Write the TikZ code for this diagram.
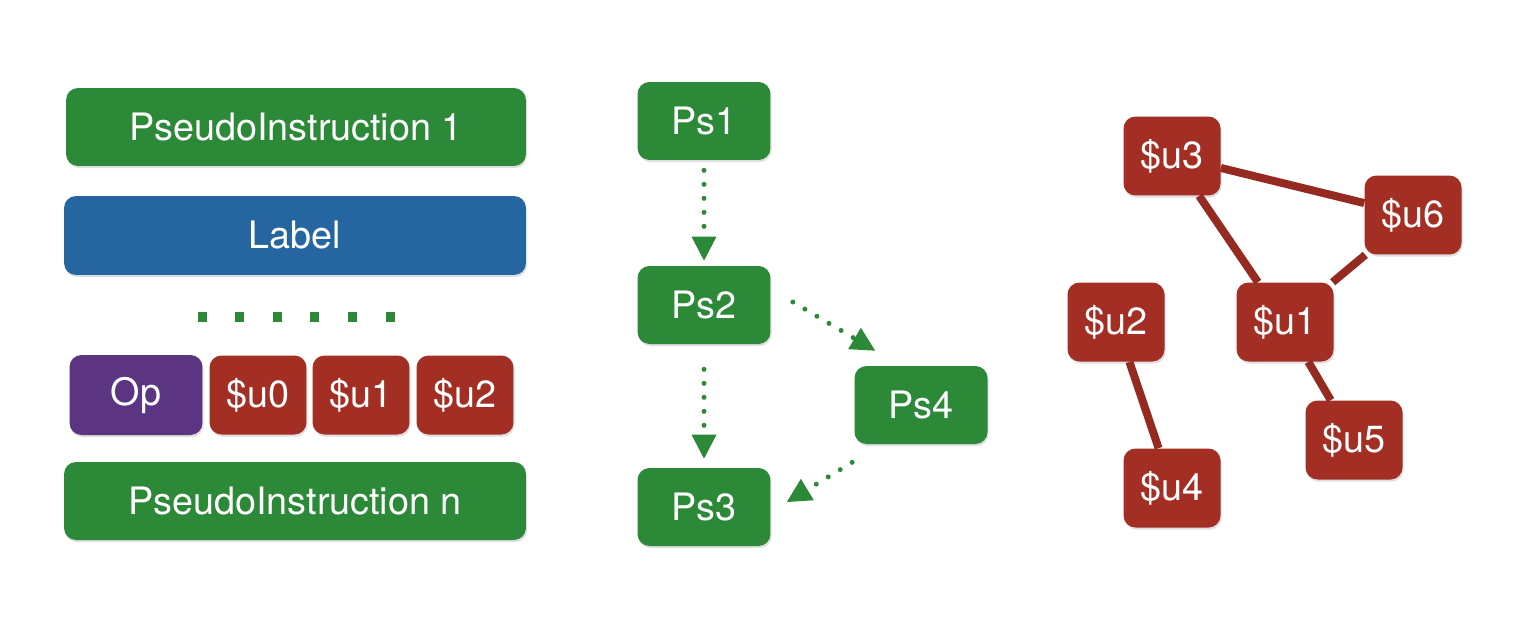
\documentclass[tikz,border=0pt]{standalone}
\usepackage{fontspec}
\setmainfont{TeX Gyre Heros}
\usetikzlibrary{arrows.meta, calc, shadows}

\definecolor{psgreen}{RGB}{44,137,56}
\definecolor{lblblue}{RGB}{37,102,160}
\definecolor{oppurple}{RGB}{91,52,130}
\definecolor{regred}{RGB}{162,46,36}

\begin{document}
\begin{tikzpicture}[x=0.02cm, y=-0.02cm,
    box/.style={rounded corners=0.24cm, inner sep=0pt, text=white,
        font=\fontsize{21.5}{25}\selectfont,
        drop shadow={shadow xshift=0.6pt, shadow yshift=-1.2pt, opacity=0.25}},
    instr/.style={box, fill=psgreen, minimum width=9.2cm, minimum height=1.56cm},
    ps/.style={box, fill=psgreen, minimum width=2.66cm, minimum height=1.56cm},
    reg/.style={box, fill=regred, minimum width=1.94cm, minimum height=1.58cm},
    flow/.style={psgreen, line width=0.1cm, line cap=round, dash pattern=on 0pt off 0.28cm,
        -{Triangle[length=0.48cm, width=0.5cm, line width=0pt]}},
    edge/.style={regred!92!black, line width=0.16cm}]

            \useasboundingbox (0,0) rectangle (1534,626);

            % Left: instruction list
            \node[instr] (pi1) at (296,127) {PseudoInstruction 1};
            \node[instr, fill=lblblue, minimum width=9.24cm, minimum height=1.58cm] (lbl) at (295,235.5) {Label};
            \foreach \i in {0,...,5}
                \fill[psgreen] ({202+37.6*\i-4.5},312) rectangle ++(9,10);
            \node[box, fill=oppurple, minimum width=2.66cm, minimum height=1.6cm] (op) at (136,395) {Op};
            \node[reg] (a0) at (258,395) {\$u0};
            \node[reg] (a1) at (361,395) {\$u1};
            \node[reg] (a2) at (465,395) {\$u2};
            \node[instr, minimum width=9.24cm] (pin) at (295,501) {PseudoInstruction n};

            % Middle: pseudo instruction graph
            \node[ps] (ps1) at (704,121) {Ps1};
            \node[ps] (ps2) at (704,305) {Ps2};
            \node[ps] (ps3) at (704,507) {Ps3};
            \node[ps] (ps4) at (921,405) {Ps4};

            \draw[flow, shorten <=0.2cm, shorten >=0.1cm] (ps1) -- (ps2);
            \draw[flow, shorten <=0.5cm, shorten >=0.18cm] (ps2) -- (ps3);
            \draw[flow] ([shift={(22,-3)}]ps2.east) -- ([shift={(21,-15)}]ps4.north west);
            \draw[flow] ([shift={(-2,18)}]ps4.south west) -- ([shift={(16,-5)}]ps3.east);

            % Right: interference graph
            \node[reg] (u3) at (1172,156) {\$u3};
            \node[reg] (u6) at (1413,215) {\$u6};
            \node[reg] (u2) at (1116,322) {\$u2};
            \node[reg] (u1) at (1285,322) {\$u1};
            \node[reg] (u5) at (1354,440) {\$u5};
            \node[reg] (u4) at (1172,488) {\$u4};

            \draw[edge] (u3) -- (u6);
            \draw[edge] (u3) -- (u1);
            \draw[edge] (u6) -- (u1);
            \draw[edge] (u1) -- (u5);
            \draw[edge] (u2) -- (u4);

        \end{tikzpicture}
\end{document}
